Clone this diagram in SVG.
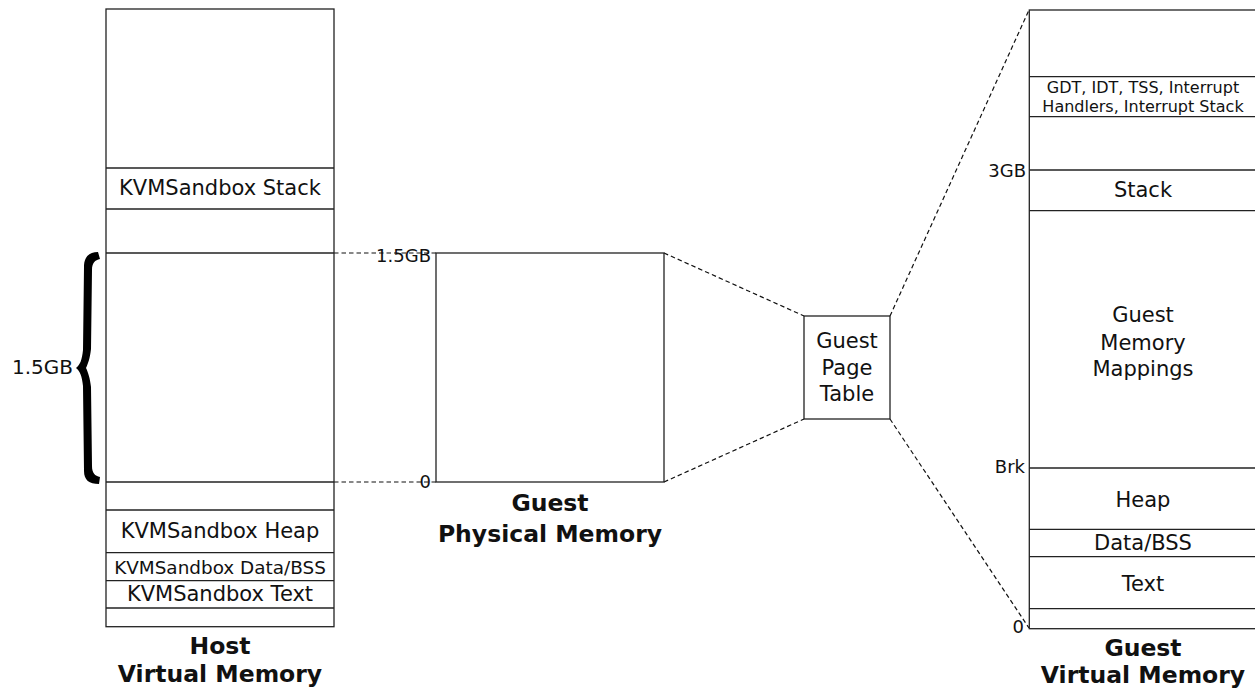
<svg xmlns="http://www.w3.org/2000/svg" width="1255" height="689" viewBox="0 0 1255 689">
<style>
.box{fill:#fff;stroke:#222;stroke-width:1.3}
.ln{stroke:#222;stroke-width:1.3}
.dash{stroke:#111;stroke-width:1.2;stroke-dasharray:4.5,3;fill:none}
text{font-family:"DejaVu Sans",Verdana,sans-serif;fill:#111}
.t{font-size:21px;text-anchor:middle}
.s{font-size:18.4px;text-anchor:middle}
.g{font-size:16px;text-anchor:middle}
.lbl{font-size:18px;text-anchor:end}
.title{font-size:23.5px;font-weight:bold;text-anchor:middle}
</style>
<rect width="1255" height="689" fill="#fff"/>
<g id="connectors">
<line class="dash" x1="334" y1="253" x2="436" y2="253"/>
<line class="dash" x1="334" y1="482" x2="436" y2="482"/>
<line class="dash" x1="664" y1="253" x2="804" y2="316"/>
<line class="dash" x1="664" y1="482" x2="804" y2="419"/>
<line class="dash" x1="890" y1="316" x2="1029" y2="10"/>
<line class="dash" x1="890" y1="419" x2="1029" y2="628"/>
</g>
<g id="host-memory">
<rect class="box" x="106" y="9" width="228" height="617.7"/>
<line class="ln" x1="106" y1="168" x2="334" y2="168"/>
<line class="ln" x1="106" y1="209" x2="334" y2="209"/>
<line class="ln" x1="106" y1="253" x2="334" y2="253"/>
<line class="ln" x1="106" y1="482" x2="334" y2="482"/>
<line class="ln" x1="106" y1="510" x2="334" y2="510"/>
<line class="ln" x1="106" y1="552.7" x2="334" y2="552.7"/>
<line class="ln" x1="106" y1="580.7" x2="334" y2="580.7"/>
<line class="ln" x1="106" y1="608" x2="334" y2="608"/>
<text class="t" x="220" y="195">KVMSandbox Stack</text>
<text class="t" x="220" y="538.3">KVMSandbox Heap</text>
<text class="s" x="220" y="574.3">KVMSandbox Data/BSS</text>
<text class="t" x="220" y="601">KVMSandbox Text</text>
<text class="title" x="220" y="654">Host</text>
<text class="title" x="220" y="682">Virtual Memory</text>
</g>
<g id="brace">
<path d="M 98,252 C 89,252 84,257 84,267 L 83,350 C 82,360 80,365 76,368 C 80,371 82,376 83,386 L 84,471 C 84,480 89,484 99,484 L 100,477 C 95,476 92,473 92,466 L 91,387 C 90,378 88,372 86,368 C 88,364 90,358 91,349 L 92,270 C 92,263 95,260 100,259 Z" fill="#000"/>
<text style="font-size:20px" x="73" y="374.3" text-anchor="end">1.5GB</text>
</g>
<g id="guest-physical">
<rect class="box" x="436" y="253" width="228" height="229"/>
<text class="lbl" x="431" y="261.5">1.5GB</text>
<text class="lbl" x="431" y="488">0</text>
<text class="title" x="550" y="511">Guest</text>
<text class="title" x="550" y="542">Physical Memory</text>
</g>
<g id="page-table">
<rect class="box" x="804" y="316" width="86" height="103"/>
<text class="t" x="847" y="348">Guest</text>
<text class="t" x="847" y="374.5">Page</text>
<text class="t" x="847" y="401">Table</text>
</g>
<g id="guest-virtual">
<rect class="box" x="1029.3" y="10" width="232" height="618.7"/>
<line class="ln" x1="1029.3" y1="76.7" x2="1261" y2="76.7"/>
<line class="ln" x1="1029.3" y1="116.7" x2="1261" y2="116.7"/>
<line class="ln" x1="1029.3" y1="170" x2="1261" y2="170"/>
<line class="ln" x1="1029.3" y1="210.7" x2="1261" y2="210.7"/>
<line class="ln" x1="1029.3" y1="468" x2="1261" y2="468"/>
<line class="ln" x1="1029.3" y1="529.3" x2="1261" y2="529.3"/>
<line class="ln" x1="1029.3" y1="556.7" x2="1261" y2="556.7"/>
<line class="ln" x1="1029.3" y1="608.7" x2="1261" y2="608.7"/>
<text class="g" x="1143" y="93.3">GDT, IDT, TSS, Interrupt</text>
<text class="g" x="1143" y="111.7">Handlers, Interrupt Stack</text>
<text class="t" x="1143" y="196.7">Stack</text>
<text class="t" x="1143" y="322.3">Guest</text>
<text class="t" x="1143" y="350">Memory</text>
<text class="t" x="1143" y="376">Mappings</text>
<text class="t" x="1143" y="506.7">Heap</text>
<text class="t" x="1143" y="550">Data/BSS</text>
<text class="t" x="1143" y="590.7">Text</text>
<text class="lbl" x="1026" y="176.7">3GB</text>
<text class="lbl" x="1025" y="473.3">Brk</text>
<text class="lbl" x="1024" y="633">0</text>
<text class="title" x="1143" y="655.7">Guest</text>
<text class="title" x="1143" y="683">Virtual Memory</text>
</g>
</svg>
